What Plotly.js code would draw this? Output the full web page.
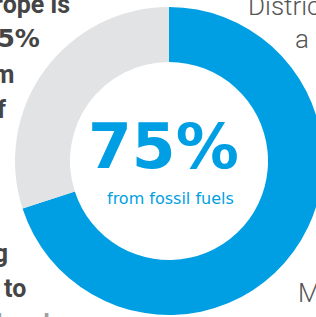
<!DOCTYPE html>
<html>
<head>
<meta charset="utf-8">
<script src="https://cdn.plot.ly/plotly-3.0.1.min.js"></script>
<style>
html,body{margin:0;padding:0;overflow:hidden;background:#fff;width:316px;height:317px;}
#chart{width:330px;height:317px;}
</style>
</head>
<body>
<div id="chart"></div>
<script>
// Data
const sliceLabels = ['From fossil fuels', 'Other sources'];
const sliceValues = [70, 30];
const sliceColors = ['#009fe3', '#e2e3e4'];
const centerValue = '75%';
const centerCaption = 'from fossil fuels';
const leftLines = ['Europe is', '75%', 'from', 'of', 'ing', 'to', 'local'];
const rightLines = ['District', 'a', 'M'];

const W = 330, H = 317;
const px = x => x / W;
const py = y => 1 - y / H;

const leftPos = [[72, 4], [42, 38], [17, 74], [8, 109], [10, 253], [28, 288], [52, 323]];
const leftFamily = ['Roboto', 'DejaVu Sans', 'Roboto', 'Roboto', 'Roboto', 'Roboto', 'Roboto'];
const leftSize = [25, 25, 25, 25, 25, 25, 25];
const rightPos = [[246, 6], [293, 39], [296, 293]];

const annotations = [];
leftLines.forEach((t, i) => {
  annotations.push({
    text: t, xref: 'paper', yref: 'paper',
    x: px(leftPos[i][0]), y: py(leftPos[i][1]),
    xanchor: 'right', yanchor: 'middle', showarrow: false,
    font: {family: leftFamily[i], size: leftSize[i], weight: 700, color: i === 6 ? '#a0a0a0' : '#454545'}
  });
});
rightLines.forEach((t, i) => {
  annotations.push({
    text: t, xref: 'paper', yref: 'paper',
    x: px(rightPos[i][0]), y: py(rightPos[i][1]),
    xanchor: 'left', yanchor: 'middle', showarrow: false,
    font: {family: 'Roboto', size: 26, weight: 300, color: '#555555'}
  });
});
annotations.push({
  text: centerValue, xref: 'paper', yref: 'paper',
  x: px(163), y: py(146), xanchor: 'center', yanchor: 'middle', showarrow: false,
  font: {family: 'DejaVu Sans', size: 63, weight: 700, color: '#009fe3'}
});
annotations.push({
  text: centerCaption, xref: 'paper', yref: 'paper',
  x: px(170), y: py(198), xanchor: 'center', yanchor: 'middle', showarrow: false,
  font: {family: 'DejaVu Sans', size: 16, color: '#009fe3'}
});

const trace = {
  type: 'pie',
  labels: sliceLabels,
  values: sliceValues,
  marker: {colors: sliceColors, line: {width: 0}},
  hole: 0.643,
  sort: false,
  direction: 'clockwise',
  rotation: 0,
  textinfo: 'none',
  hoverinfo: 'none',
  showlegend: false,
  domain: {x: [15 / W, 323 / W], y: [2 / H, 310 / H]}
};

Plotly.newPlot('chart', [trace], {
  width: W, height: H,
  margin: {l: 0, r: 0, t: 0, b: 0},
  paper_bgcolor: '#ffffff',
  showlegend: false,
  annotations: annotations
}, {displayModeBar: false, staticPlot: true});
</script>
</body>
</html>
